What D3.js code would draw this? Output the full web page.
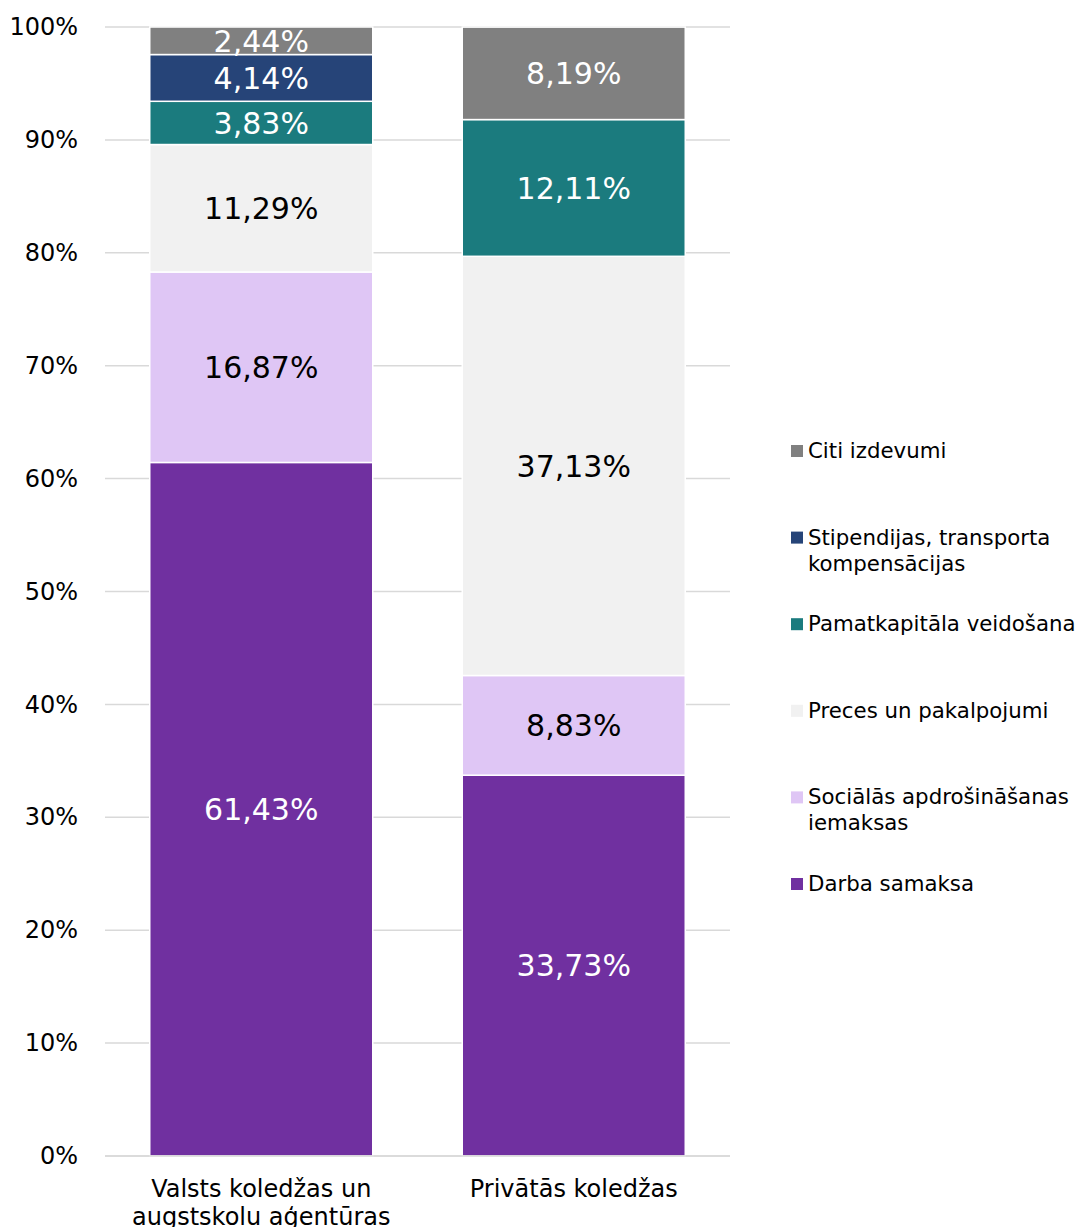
<!DOCTYPE html>
<html>
<head>
<meta charset="utf-8">
<script src="https://cdn.jsdelivr.net/npm/d3@7"></script>
<style>
  body { margin: 0; background: #fff; }
  svg { font-family: Verdana, "DejaVu Sans", sans-serif; }
</style>
</head>
<body>
<svg width="1077" height="1227"></svg>
<script>
// categories (x axis), each may wrap over two lines
var categories = ["Valsts koledžas un augstskolu aģentūras", "Privātās koledžas"];
var categoryLines = [["Valsts koledžas un", "augstskolu aģentūras"], ["Privātās koledžas"]];

// series, bottom to top
var seriesNames = ["Darba samaksa", "Sociālās apdrošināšanas iemaksas", "Preces un pakalpojumi",
  "Pamatkapitāla veidošana", "Stipendijas, transporta kompensācijas", "Citi izdevumi"];
var legendLines = [["Darba samaksa"], ["Sociālās apdrošināšanas", "iemaksas"], ["Preces un pakalpojumi"],
  ["Pamatkapitāla veidošana"], ["Stipendijas, transporta", "kompensācijas"], ["Citi izdevumi"]];
var seriesColors = ["#7030a0", "#dfc6f5", "#f1f1f1", "#1b7b7e", "#264478", "#808080"];
var labelColors = ["#fff", "#000", "#000", "#fff", "#fff", "#fff"];

// values per series, one per category (percent)
var darbaSamaksa = [61.43, 33.73];
var socialas = [16.87, 8.83];
var preces = [11.29, 37.13];
var pamatkapitals = [3.83, 12.11];
var stipendijas = [4.14, 0];
var citi = [2.44, 8.19];

var yTicks = [0, 10, 20, 30, 40, 50, 60, 70, 80, 90, 100];

var seriesValues = [darbaSamaksa, socialas, preces, pamatkapitals, stipendijas, citi];

var rows = categories.map(function(c, i) {
  var r = {category: c};
  seriesNames.forEach(function(s, j) { r[s] = seriesValues[j][i]; });
  return r;
});

var svg = d3.select("svg");
var plotLeft = 105, plotRight = 730, plotTop = 27, plotBottom = 1156;

var x = d3.scaleBand().domain(categories).range([plotLeft, plotRight])
  .paddingInner(0.2864).paddingOuter(0.1432);
var y = d3.scaleLinear().domain([0, 100]).range([plotBottom, plotTop]);

// grid lines
svg.append("g").selectAll("line")
  .data(yTicks)
  .enter().append("line")
  .attr("x1", plotLeft).attr("x2", plotRight)
  .attr("y1", function(d) { return y(d); })
  .attr("y2", function(d) { return y(d); })
  .attr("stroke", "#d9d9d9")
  .attr("stroke-width", 1.5);

// y axis labels
var yAxis = svg.append("g")
  .attr("transform", "translate(" + (plotLeft - 24) + ",0)")
  .call(d3.axisLeft(y).tickValues(yTicks).tickSize(0).tickFormat(function(d) { return d + "%"; }));
yAxis.select(".domain").remove();
yAxis.selectAll("text")
  .attr("font-family", "Verdana, 'DejaVu Sans', sans-serif")
  .attr("font-size", 24)
  .attr("fill", "#000");

var stack = d3.stack().keys(seriesNames);
var layers = stack(rows);

var layerG = svg.append("g").selectAll("g")
  .data(layers)
  .enter().append("g")
  .attr("fill", function(d, i) { return seriesColors[i]; });

layerG.selectAll("rect")
  .data(function(d) { return d.filter(function(p) { return p[1] - p[0] > 0; }); })
  .enter().append("rect")
  .attr("x", function(d) { return x(d.data.category); })
  .attr("y", function(d) { return y(d[1]); })
  .attr("width", x.bandwidth())
  .attr("height", function(d) { return y(d[0]) - y(d[1]); })
  .attr("stroke", "#fff")
  .attr("stroke-width", 1.5);

// data labels
layerG.each(function(layer, i) {
  d3.select(this).selectAll("text")
    .data(layer.filter(function(p) { return p[1] - p[0] > 0; }))
    .enter().append("text")
    .attr("x", function(d) { return x(d.data.category) + x.bandwidth() / 2; })
    .attr("y", function(d) { return y((d[0] + d[1]) / 2); })
    .attr("dy", "0.36em")
    .attr("text-anchor", "middle")
    .attr("font-size", 30)
    .attr("fill", labelColors[i])
    .text(function(d) { return (d[1] - d[0]).toFixed(2).replace(".", ",") + "%"; });
});

// x axis baseline
svg.append("line")
  .attr("x1", plotLeft).attr("x2", plotRight)
  .attr("y1", plotBottom).attr("y2", plotBottom)
  .attr("stroke", "#d9d9d9").attr("stroke-width", 1.5);

// category labels
categories.forEach(function(c, i) {
  var t = svg.append("text")
    .attr("text-anchor", "middle")
    .attr("font-size", 24)
    .attr("fill", "#000");
  categoryLines[i].forEach(function(line, k) {
    t.append("tspan")
      .attr("x", x(c) + x.bandwidth() / 2)
      .attr("y", 1197 + k * 28)
      .text(line);
  });
});

// legend, top entry is the last series
var legend = svg.append("g");
seriesNames.slice().reverse().forEach(function(s, k) {
  var i = seriesNames.length - 1 - k;
  var yy = 451 + k * 86.6;
  legend.append("rect")
    .attr("x", 791).attr("y", yy - 6)
    .attr("width", 12).attr("height", 12)
    .attr("fill", seriesColors[i]);
  var t = legend.append("text")
    .attr("font-size", 21.3)
    .attr("fill", "#000");
  legendLines[i].forEach(function(line, n) {
    t.append("tspan")
      .attr("x", 808)
      .attr("y", yy + 7 + n * 26)
      .text(line);
  });
});
</script>
</body>
</html>
